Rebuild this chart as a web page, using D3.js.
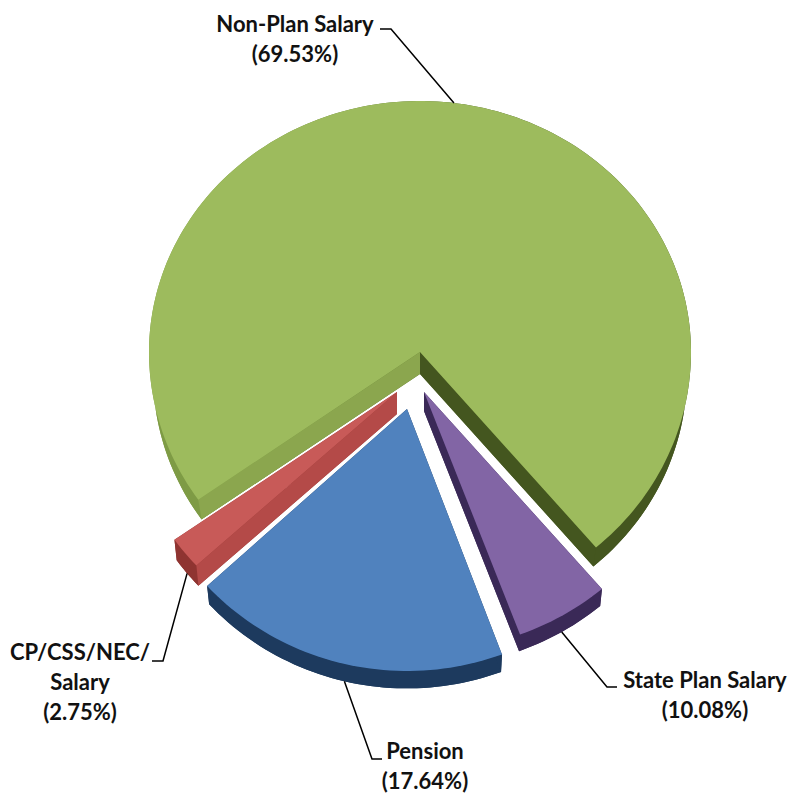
<!DOCTYPE html>
<html>
<head>
<meta charset="utf-8">
<title>Salary and pension shares</title>
<script src="https://cdn.jsdelivr.net/npm/d3@7"></script>
<style>
    html, body { margin: 0; padding: 0; background: #fff; }
    #chart { width: 795px; height: 800px; }
    text { font-family: Lato, "Open Sans", sans-serif; font-weight: 700; font-size: 22px; fill: #111; }
</style>
</head>
<body>
<div id="chart"></div>
<script>
// slices, clockwise from the left edge of the big green one
const categories = ["Non-Plan Salary", "State Plan Salary", "Pension", "CP/CSS/NEC/ Salary"];
const printedShares = ["69.53%", "10.08%", "17.64%", "2.75%"];
// the 3D perspective of the original squeezes the wedges, so these are the
// shares as they were measured off the drawing and not the printed ones
const drawnShares = [73.5, 5.55, 18.9, 2.05];
const labelLines = [
    ["Non-Plan Salary"],
    ["State Plan Salary"],
    ["Pension"],
    ["CP/CSS/NEC/", "Salary"]
];

class ExplodedPie {
    constructor(parentElement) {
        this.parentElement = parentElement;
        this.initVis();
    }

    initVis() {
        let vis = this;

        vis.svg = d3.select("#" + vis.parentElement).append("svg")
            .attr("width", 795)
            .attr("height", 800);

        vis.center = {x: 415, y: 373};
        vis.startAngle = 234.9 * Math.PI / 180;

        // one entry per slice, same order as categories
        vis.explode = [[5, -21], [9, 19], [-8, 36], [-18, 19]];
        // rx, ry above the centre, ry below the centre
        vis.radius = [[271, 251, 257], [274, 259, 259], [271, 262, 262], [272, 257, 257]];
        vis.depth = [22, 19, 20, 22];
        // the underside is a little smaller, that is the perspective
        vis.underside = [0.985, 0.99, 0.99, 0.99];

        vis.top = ["#9dbb5d", "#8265a5", "#5082be", "#c85a58"];
        vis.startWall = ["#8ba64e", "#3a2957", "#1d3a5e", "#b44a48"];
        vis.endWall = ["#44561f", "#3a2957", "#1d3a5e", "#8f3431"];
        vis.rim = ["url(#greenRim)", "#3a2957", "#1d3a5e", "#8f3431"];

        // label block: anchor x, first baseline, elbow of the leader line
        vis.labelPos = [
            {x: 295, y: 32, elbow: [[391, 29], [380, 29]]},
            {x: 705, y: 688, elbow: [[607, 687], [617, 687]]},
            {x: 425, y: 759, elbow: [[372, 759], [382, 759]]},
            {x: 80, y: 660, elbow: [[163, 661], [152, 661]]}
        ];

        let grad = vis.svg.append("defs").append("linearGradient")
            .attr("id", "greenRim")
            .attr("gradientUnits", "userSpaceOnUse")
            .attr("x1", 149).attr("x2", 690)
            .attr("y1", 0).attr("y2", 0);
        grad.append("stop").attr("offset", "15%").attr("stop-color", "#7e9b45");
        grad.append("stop").attr("offset", "70%").attr("stop-color", "#44561f");

        vis.pie = d3.pie()
            .sort(null)
            .startAngle(vis.startAngle)
            .endAngle(vis.startAngle + 2 * Math.PI);

        vis.line = d3.line();

        vis.updateVis();
    }

    // point on slice i at unit radius r, angle a (clockwise from top), dropped by lift
    point(i, a, r, lift) {
        let vis = this;
        let cos = Math.cos(a);
        let ry = cos > 0 ? vis.radius[i][1] : vis.radius[i][2];
        return [
            vis.center.x + vis.explode[i][0] + r * vis.radius[i][0] * Math.sin(a),
            vis.center.y + vis.explode[i][1] - r * ry * cos + lift
        ];
    }

    rimPoints(i, d, r, lift) {
        let vis = this;
        let n = Math.max(4, Math.ceil((d.endAngle - d.startAngle) * 40));
        return d3.range(n + 1).map(k => {
            let a = d.startAngle + (d.endAngle - d.startAngle) * k / n;
            return vis.point(i, a, r, lift);
        });
    }

    updateVis() {
        let vis = this;

        let slices = vis.pie(drawnShares);
        // big slice first, the small ones sit on top of its walls
        let groups = vis.svg.selectAll(".slice")
            .data(slices)
            .enter()
            .append("g")
            .attr("class", "slice");

        groups.each(function(d, i) {
            let g = d3.select(this);
            let dep = vis.depth[i];
            let k = vis.underside[i];
            let topFace = [vis.point(i, 0, 0, 0)].concat(vis.rimPoints(i, d, 1, 0));
            let bottomFace = [vis.point(i, 0, 0, dep)].concat(vis.rimPoints(i, d, k, dep));
            let outer = vis.rimPoints(i, d, 1, 0).concat(vis.rimPoints(i, d, k, dep).reverse());
            let wall = a => [vis.point(i, 0, 0, 0), vis.point(i, a, 1, 0), vis.point(i, a, k, dep), vis.point(i, 0, 0, dep)];

            // white halo that separates the wedges
            [topFace, bottomFace, outer, wall(d.startAngle), wall(d.endAngle)].forEach(p => {
                g.append("path")
                    .attr("d", vis.line(p) + "Z")
                    .attr("fill", "#fff")
                    .attr("stroke", "#fff")
                    .attr("stroke-width", 3)
                    .attr("stroke-linejoin", "round");
            });

            g.append("path").attr("d", vis.line(bottomFace) + "Z").attr("fill", vis.rim[i]);
            g.append("path").attr("d", vis.line(outer) + "Z").attr("fill", vis.rim[i]);
            g.append("path").attr("d", vis.line(wall(d.endAngle)) + "Z").attr("fill", vis.endWall[i]);
            g.append("path").attr("d", vis.line(wall(d.startAngle)) + "Z").attr("fill", vis.startWall[i]);
            g.append("path").attr("d", vis.line(topFace) + "Z").attr("fill", vis.top[i]);
        });

        // leader lines start on the rim at the middle of each slice
        slices.forEach((d, i) => {
            let mid = (d.startAngle + d.endAngle) / 2;
            let lower = Math.cos(mid) < 0;
            let anchor = lower ? vis.point(i, mid, vis.underside[i], vis.depth[i]) : vis.point(i, mid, 1, 0);
            vis.svg.append("path")
                .attr("d", vis.line([anchor].concat(vis.labelPos[i].elbow)))
                .attr("fill", "none")
                .attr("stroke", "#000")
                .attr("stroke-width", 1.5);

            let lines = labelLines[i].concat(["(" + printedShares[i] + ")"]);
            let label = vis.svg.append("text")
                .attr("text-anchor", "middle")
                .attr("aria-label", categories[i]);
            lines.forEach((t, k) => {
                label.append("tspan")
                    .attr("x", vis.labelPos[i].x)
                    .attr("y", vis.labelPos[i].y + k * 30)
                    .text(t);
            });
        });
    }
}

new ExplodedPie("chart");
</script>
</body>
</html>
